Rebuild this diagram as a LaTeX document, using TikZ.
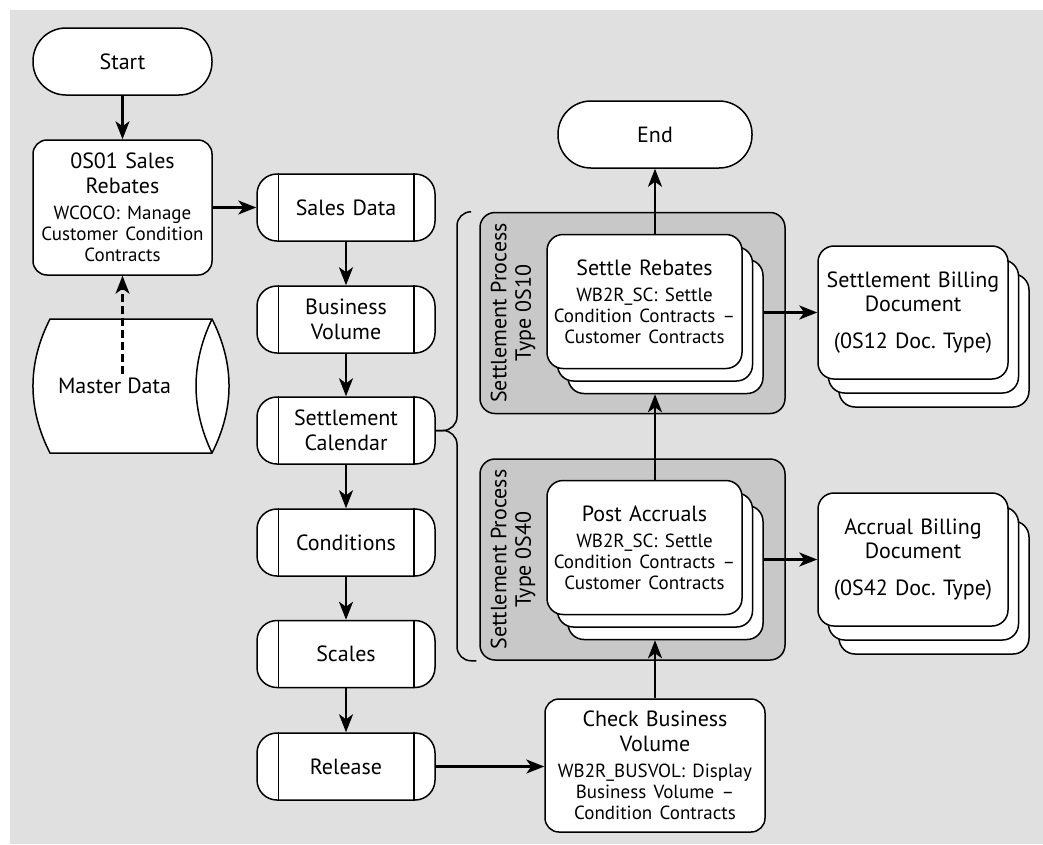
\documentclass[tikz,border=0pt]{standalone}
\usepackage{fontspec}
\setmainfont{PT Sans}
\usetikzlibrary{arrows.meta,calc}
\frenchspacing

\definecolor{bggray}{RGB}{224,224,224}
\definecolor{boxgray}{RGB}{200,200,200}
\newcommand{\titlefs}{\fontsize{22}{24.5}\selectfont}
\newcommand{\subfs}{\fontsize{19}{21}\selectfont}

\begin{document}
\begin{tikzpicture}
  [x=1pt,y=-1pt,line width=1.5pt,
   every node/.style={font=\titlefs,align=center,inner sep=3pt},
   term/.style={draw,fill=white,rounded corners=33pt,minimum height=67pt},
   proc/.style={draw,fill=white,rounded corners=14pt},
   obj/.style={draw,fill=white,rounded corners=20pt,minimum width=178pt,minimum height=67pt,text width=128pt},
   card/.style={draw,fill=white,rounded corners=16pt,minimum width=195pt,minimum height=134pt,text width=187pt},
   doc/.style={card,minimum width=190pt,minimum height=133pt,text width=182pt},
   grp/.style={draw,fill=boxgray,rounded corners=15pt,minimum width=305pt,minimum height=201pt},
   arr/.style={line width=2.4pt,-{Stealth[length=18pt,width=14pt,inset=5pt]}},
   brace/.style={rounded corners=14pt}]
  \useasboundingbox (0,0) rectangle (1043,844);
  \fill[bggray] (10,10) rectangle (1043,844);

  % left column
  \node[term,minimum width=179pt] (st) at (122.5,61.5) {Start};
  \node[proc,minimum width=179pt,minimum height=135pt,text width=173pt] (s01) at (122.5,207.5)
    {0S01 Sales\\Rebates\par\vspace{5pt}\subfs WCOCO: Manage\\Customer Condition\\Contracts\par};
  \draw[fill=white] (50,319) -- (212,319) .. controls (234.7,363.7) and (234.7,408.3) .. (212,453)
    -- (50,453) .. controls (27.3,408.3) and (27.3,363.7) .. (50,319) -- cycle;
  \draw (212,319) .. controls (190.7,363.7) and (190.7,408.3) .. (212,453);
  \node (md) at (114.5,386) {Master Data};

  % data objects
  \node[obj] (sd) at (346,207.5) {Sales Data};
  \node[obj] (bv) at (346,319.5) {Business\\Volume};
  \node[obj] (sc) at (346,430.5) {Settlement\\Calendar};
  \node[obj] (co) at (346,542.5) {Conditions};
  \node[obj] (sl) at (346,654) {Scales};
  \node[obj] (rl) at (346,766.5) {Release};
  \foreach \n in {sd,bv,sc,co,sl,rl}
    \draw ([xshift=22pt]\n.north west) -- ([xshift=22pt]\n.south west)
          ([xshift=-22pt]\n.north east) -- ([xshift=-22pt]\n.south east);

  % settlement processes
  \node[grp] (g10) at (632.5,313) {};
  \node[grp] (g40) at (632.5,559.5) {};
  \node[rotate=90] (l10) at (513,313) {Settlement Process\\Type 0S10};
  \node[rotate=90] (l40) at (513,559.5) {Settlement Process\\Type 0S40};

  \coordinate (srpos) at (644.5,301.5);
  \coordinate (papos) at (644.5,547.5);
  \coordinate (sbpos) at (913,312.5);
  \coordinate (abpos) at (913,559.5);
  \foreach \c in {srpos,papos}
    \foreach \k in {2,1}
      \node[card] (\c\k) at ($(\c)+(10.5*\k,12.5*\k)$) {};
  \foreach \c in {sbpos,abpos}
    \foreach \k in {2,1}
      \node[doc] (\c\k) at ($(\c)+(10.5*\k,14*\k)$) {};

  \node[card] (sr) at (srpos)
    {Settle Rebates\par\vspace{5pt}\subfs WB2R\_SC: Settle\\Condition Contracts \textendash\\Customer Contracts\par};
  \node[card] (pa) at (papos)
    {Post Accruals\par\vspace{5pt}\subfs WB2R\_SC: Settle\\Condition Contracts \textendash\\Customer Contracts\par};
  \node[doc] (sb) at (sbpos) {Settlement Billing\\Document\\[12pt](0S12 Doc. Type)};
  \node[doc] (ab) at (abpos) {Accrual Billing\\Document\\[12pt](0S42 Doc. Type)};

  \node[term,minimum width=194pt] (en) at (655,134.5) {End};
  \node[proc,minimum width=220pt,minimum height=133pt,text width=214pt] (cbv) at (655,765.5)
    {Check Business\\Volume\par\vspace{5pt}\subfs WB2R\_BUSVOL: Display\\Business Volume \textendash\\Condition Contracts\par};

  % brace
  \coordinate (bx) at (457,0);
  \draw[brace] (sc.east) -- (sc.east -| bx) |- ($(g10.north west)+(-10,0)$);
  \draw[brace] (sc.east) -- (sc.east -| bx) |- ($(g40.south west)+(-3,0)$);

  % connectors
  \draw[arr] (st) -- (s01);
  \draw[arr] (s01) -- (sd);
  \draw[arr,dash pattern=on 8pt off 4pt] (md.north -| s01.south) -- (s01.south);
  \foreach \from/\to in {sd/bv,bv/sc,sc/co,co/sl,sl/rl}
    \draw[arr] (\from) -- (\to);
  \draw[arr] (rl) -- (rl -| cbv.west);
  \draw[arr] (cbv) -- ($(pa.south -| cbv)+(0,25)$);
  \draw[arr] (pa.north -| cbv) -- ($(sr.south -| cbv)+(0,25)$);
  \draw[arr] (sr.north -| en) -- (en);
  \draw[arr] ($(sr.east |- sb)+(21,0)$) -- (sb);
  \draw[arr] ($(pa.east |- ab)+(21,0)$) -- (ab);
\end{tikzpicture}
\end{document}
